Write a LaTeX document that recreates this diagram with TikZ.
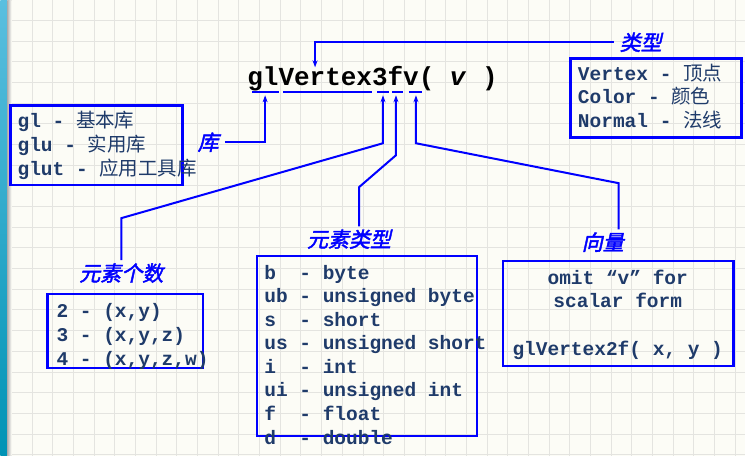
\documentclass[tikz,border=0pt]{standalone}
\usepackage{fontspec}
\setmonofont{Liberation Mono}
\newfontfamily\cjk{Noto Sans CJK SC}
\newfontfamily\cjklbl[FakeSlant=0.22,FakeBold=2]{Noto Sans CJK SC}
\usetikzlibrary{arrows.meta}
\definecolor{navytxt}{HTML}{1F3B6A}
\definecolor{slidebg}{HTML}{FCFCF6}
\definecolor{gridgray}{HTML}{E4E4E0}
\definecolor{stripA}{HTML}{5BBFDF}
\definecolor{stripB}{HTML}{0093B5}
\newcommand\zh[1]{{\cjk\mdseries #1}}
\tikzset{
  frame/.style={draw=blue, line width=2.6pt, inner sep=0pt},
  listtxt/.style={anchor=base west, inner sep=0pt, text=navytxt,
    font=\fontsize{19.5}{24}\selectfont\ttfamily\bfseries},
  tag/.style={text=blue, font=\fontsize{21}{24}\selectfont\cjklbl, inner xsep=6pt, inner ysep=3pt},
  link/.style={draw=blue, line width=2pt},
  arr/.style={link, -{Stealth[length=7pt,width=5pt]}},
  uline/.style={draw=blue, line width=2pt},
}
\begin{document}
\begin{tikzpicture}[x=1pt,y=-1pt]
	% slide background
	\fill[slidebg] (0,0) rectangle (745,456);
	\foreach \gx in {0,...,35}
		\draw[gridgray, line width=0.8pt] ({11+20.7*\gx},0) -- ({11+20.7*\gx},456);
	\foreach \gy in {0,...,21}
		\draw[gridgray, line width=0.8pt] (0,{20+20.7*\gy}) -- (745,{20+20.7*\gy});
	\shade[top color=stripA, bottom color=stripB] (0,0) rectangle (7,456);
	\shade[left color=black!30, right color=slidebg] (7,0) rectangle (11,456);
	\useasboundingbox (0,0) rectangle (745,456);

	% function name
	\node[anchor=base west, inner sep=0pt, font=\fontsize{26}{30}\selectfont\ttfamily\bfseries]
		(title) at (247,85) {glVertex3fv( \textit{v} )};
	\draw[uline] (252,92) -- (279,92) (283,92) -- (372,92) (377,92) -- (389,92)
		(392,92) -- (403,92) (409,92) -- (422,92);
	\coordinate (uGl) at (265,95);
	\coordinate (u3) at (383,95);
	\coordinate (uF) at (396,95);
	\coordinate (uV) at (416,95);
	\coordinate (tV) at (315,67);

	% labels
	\node[tag] (typetag) at (641,42) {类型};
	\node[tag] (libtag) at (208,142) {库};
	\node[tag] (cnttag) at (121,273) {元素个数};
	\node[tag] (eltag) at (349,239) {元素类型};
	\node[tag] (vectag) at (603,242) {向量};

	% bends
	\coordinate (cntA) at (121,218);
	\coordinate (cntB) at (383,143);
	\coordinate (elA) at (359,187);
	\coordinate (elB) at (396,155);
	\coordinate (vecA) at (619,183);
	\coordinate (vecB) at (416,143);

	\draw[arr] (typetag.west) -| (tV);
	\draw[arr] (libtag.east) -| (uGl);
	\draw[arr] (cnttag.north -| cntA) -- (cntA) -- (cntB) -- (u3);
	\draw[arr] (eltag.north -| elA) -- (elA) -- (elB) -- (uF);
	\draw[arr] (vectag.north -| vecA) -- (vecA) -- (vecB) -- (uV);

	% boxes
	\node[frame, minimum width=172pt, minimum height=80pt] (libbox) at (96,145) {};
	\node[frame, minimum width=171pt, minimum height=79pt] (typebox) at (656.5,97.5) {};
	\node[frame, minimum width=156pt, minimum height=74pt] (cntbox) at (125,331) {};
	\node[frame, minimum width=220pt, minimum height=180pt] (elbox) at (367,346) {};
	\node[frame, minimum width=231pt, minimum height=105pt] (vecbox) at (618.5,313.5) {};

	% box texts
	\foreach \row [count=\i] in {{gl - \zh{基本库}}, {glu - \zh{实用库}}, {glut - \zh{应用工具库}}}
		\node[listtxt] (lib\i) at (17,{103+24*\i}) {\row};
	\foreach \row [count=\i] in {{Vertex - \zh{顶点}}, {Color - \zh{颜色}}, {Normal - \zh{法线}}}
		\node[listtxt] (type\i) at (578,{56.5+23.5*\i}) {\row};
	\foreach \row [count=\i] in {{2 - (x,y)}, {3 - (x,y,z)}, {4 - (x,y,z,w)}}
		\node[listtxt] (cnt\i) at (56,{293+24*\i}) {\row};
	\foreach \row [count=\i] in {{b~ - byte}, {ub - unsigned byte}, {s~ - short}, {us - unsigned short},
		{i~ - int}, {ui - unsigned int}, {f~ - float}, {d~ - double}}
		\node[listtxt] (el\i) at (264,{255.4+23.6*\i}) {\row};
	\node[listtxt, anchor=base] (vec1) at (618,284) {omit “v” for};
	\node[listtxt, anchor=base] (vec2) at (618,307) {scalar form};
	\node[listtxt, anchor=base] (vec3) at (618,355) {glVertex2f( x, y )};
\end{tikzpicture}
\end{document}
